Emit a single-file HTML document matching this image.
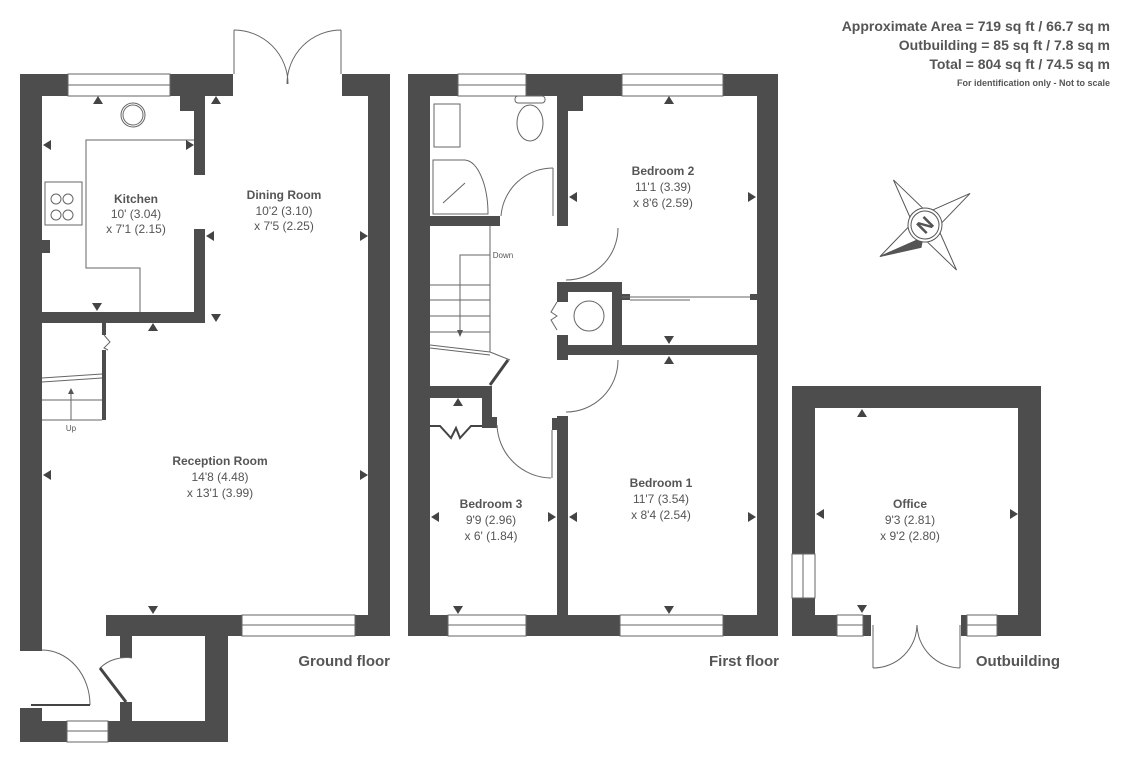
<!DOCTYPE html>
<html><head><meta charset="utf-8"><style>
html,body{margin:0;padding:0;background:#fff;}
svg{display:block;}
text{font-family:"Liberation Sans",sans-serif;fill:#555;}
.b{font-weight:bold;}
</style></head><body>
<svg width="1131" height="758" viewBox="0 0 1131 758" xmlns="http://www.w3.org/2000/svg">
<defs>
<g id="tu"><polygon points="-5,4 5,4 0,-4" fill="#444"/></g>
<g id="td"><polygon points="-5,-4 5,-4 0,4" fill="#444"/></g>
<g id="tl"><polygon points="4,-5 4,5 -4,0" fill="#444"/></g>
<g id="tr"><polygon points="-4,-5 -4,5 4,0" fill="#444"/></g>
</defs>
<!-- Header -->
<g text-anchor="end">
<text x="1110" y="31" font-size="14" class="b">Approximate Area = 719 sq ft / 66.7 sq m</text>
<text x="1110" y="50" font-size="14" class="b">Outbuilding = 85 sq ft / 7.8 sq m</text>
<text x="1110" y="69" font-size="14" class="b">Total = 804 sq ft / 74.5 sq m</text>
<text x="1110" y="86" font-size="9" class="b">For identification only - Not to scale</text>
</g>
<!-- Compass -->
<g transform="translate(925,225) rotate(-35)" stroke="#555" stroke-width="1" fill="#fff">
<polygon points="0,-55 9,-9 55,0 9,9 0,55 -9,9 -55,0 -9,-9"/>
<polygon points="-55,0 -9,9 -16,16" fill="#555"/>
<circle r="17"/><circle r="14"/>
<text x="0" y="7" font-size="20" text-anchor="middle" class="b" transform="rotate(-10)" style="fill:#555" stroke="none">N</text>
</g>
<g fill="#4d4d4d">
<!-- GROUND FLOOR -->
<rect x="20" y="74" width="48" height="22"/>
<rect x="170" y="74" width="63" height="22"/>
<rect x="180" y="96" width="25" height="15"/>
<rect x="342" y="74" width="48" height="22"/>
<rect x="20" y="74" width="22" height="577"/>
<rect x="368" y="74" width="22" height="562"/>
<rect x="194" y="96" width="11" height="79"/>
<rect x="194" y="229" width="11" height="94"/>
<rect x="42" y="312" width="163" height="11"/>
<rect x="42" y="240" width="8" height="13"/>
<rect x="102" y="323" width="4" height="12"/>
<rect x="102" y="350" width="4" height="70"/>
<rect x="106" y="615" width="136" height="21"/>
<rect x="355" y="615" width="35" height="21"/>
<rect x="120" y="636" width="12" height="22"/>
<rect x="120" y="702" width="12" height="19"/>
<rect x="205" y="636" width="23" height="106"/>
<rect x="108" y="721" width="120" height="21"/>
<rect x="20" y="708" width="22" height="34"/>
<rect x="20" y="721" width="47" height="21"/>
<!-- FIRST FLOOR -->
<rect x="408" y="74" width="50" height="22"/>
<rect x="526" y="74" width="96" height="22"/>
<rect x="723" y="74" width="55" height="22"/>
<rect x="408" y="74" width="22" height="562"/>
<rect x="757" y="74" width="21" height="562"/>
<rect x="408" y="615" width="40" height="21"/>
<rect x="526" y="615" width="94" height="21"/>
<rect x="723" y="615" width="55" height="21"/>
<rect x="557" y="96" width="11" height="130"/>
<rect x="568" y="96" width="15" height="15"/>
<rect x="430" y="216" width="70" height="10"/>
<rect x="557" y="282" width="65" height="10"/>
<rect x="557" y="282" width="11" height="20"/>
<rect x="557" y="335" width="11" height="25"/>
<rect x="612" y="282" width="10" height="73"/>
<rect x="557" y="345" width="200" height="10"/>
<rect x="622" y="294" width="8" height="6"/>
<rect x="750" y="294" width="7" height="6"/>
<rect x="430" y="386" width="62" height="12"/>
<rect x="482" y="386" width="10" height="42"/>
<rect x="482" y="417" width="15" height="11"/>
<rect x="557" y="416" width="11" height="199"/>
<rect x="552" y="418" width="6" height="12"/>
<!-- OUTBUILDING -->
<rect x="792" y="386" width="249" height="22"/>
<rect x="792" y="386" width="23" height="168"/>
<rect x="792" y="598" width="23" height="38"/>
<rect x="1018" y="386" width="23" height="250"/>
<rect x="792" y="615" width="45" height="21"/>
<rect x="863" y="615" width="8" height="21"/>
<rect x="961" y="615" width="6" height="21"/>
<rect x="997" y="615" width="21" height="21"/>
</g>
<g fill="none" stroke="#666" stroke-width="1">
<rect x="68" y="74" width="102" height="22"/><line x1="68" y1="85" x2="170" y2="85"/>
<rect x="242" y="615" width="113" height="21"/><line x1="242" y1="625" x2="355" y2="625"/>
<rect x="67" y="721" width="41" height="21"/><line x1="67" y1="731" x2="108" y2="731"/>
<rect x="458" y="74" width="68" height="22"/><line x1="458" y1="85" x2="526" y2="85"/>
<rect x="622" y="74" width="101" height="22"/><line x1="622" y1="85" x2="723" y2="85"/>
<rect x="448" y="615" width="78" height="21"/><line x1="448" y1="625" x2="526" y2="625"/>
<rect x="620" y="615" width="103" height="21"/><line x1="620" y1="625" x2="723" y2="625"/>
<rect x="792" y="554" width="23" height="44"/><line x1="803" y1="554" x2="803" y2="598"/>
<rect x="837" y="615" width="26" height="21"/><line x1="837" y1="625" x2="863" y2="625"/>
<rect x="967" y="615" width="30" height="21"/><line x1="967" y1="625" x2="997" y2="625"/>
<line x1="234" y1="30" x2="234" y2="74"/><line x1="341" y1="30" x2="341" y2="74"/>
<path d="M234,30 A54,54 0 0 1 288,84"/><path d="M341,30 A54,54 0 0 0 287,84"/>
<polyline points="194,140 86,140 86,268 140,268 140,312"/>
<circle cx="133" cy="115" r="12"/><circle cx="133" cy="115" r="10"/>
<rect x="45" y="182" width="37" height="43"/>
<circle cx="56" cy="199" r="5"/><circle cx="68" cy="199" r="5"/><circle cx="56" cy="215" r="5"/><circle cx="68" cy="215" r="5"/>
<line x1="42" y1="378" x2="102" y2="374"/><line x1="42" y1="382" x2="102" y2="378"/><line x1="42" y1="400" x2="102" y2="400"/><line x1="42" y1="420" x2="102" y2="420"/>
<line x1="71" y1="420" x2="71" y2="392"/>
<polyline points="104,335 110,342 104,348 108,350"/>
<path d="M42,650 A48,55 0 0 1 90,705"/><line x1="31" y1="705" x2="90" y2="705" stroke-width="2" stroke="#444"/>
<path d="M132,658 A38,38 0 0 0 100,668"/><line x1="100" y1="668" x2="126" y2="702" stroke-width="3" stroke="#444"/>
<rect x="434" y="104" width="26" height="43"/>
<path d="M433,160 L465,160 A24,54 0 0 1 488,214 L433,214 Z"/>
<line x1="443" y1="203" x2="465" y2="183"/>
<ellipse cx="530" cy="123" rx="13" ry="18"/><rect x="515" y="96" width="30" height="7" rx="3"/>
<path d="M501,216 A52,52 0 0 1 553,168"/><line x1="553" y1="168" x2="553" y2="216"/>
<path d="M618,228 A52,52 0 0 1 566,280"/>
<path d="M618,360 A52,52 0 0 1 566,412"/>
<path d="M497,425 A55,55 0 0 0 551,478"/><line x1="552" y1="478" x2="552" y2="430"/>
<line x1="622" y1="297" x2="750" y2="297"/><line x1="630" y1="300" x2="690" y2="300"/>
<circle cx="589" cy="316" r="15"/>
<polyline points="557,302 551,312 557,316 551,320 557,330"/>
<line x1="490" y1="226" x2="490" y2="352"/>
<line x1="430" y1="285" x2="490" y2="285"/><line x1="430" y1="300" x2="490" y2="300"/><line x1="430" y1="316" x2="490" y2="316"/><line x1="430" y1="332" x2="490" y2="332"/>
<line x1="430" y1="345" x2="490" y2="352"/><line x1="430" y1="348" x2="490" y2="355"/>
<polyline points="490,255 460,255 460,330"/>
<polyline points="490,352 510,360" />
<line x1="508" y1="360" x2="490" y2="385" stroke-width="3" stroke="#444"/>
<polyline points="430,426 440,426 451,438 456,428 460,438 471,426 482,426" stroke-width="2" stroke="#444"/>
<line x1="873" y1="625" x2="873" y2="668"/><line x1="960" y1="625" x2="960" y2="668"/>
<path d="M873,668 A44,44 0 0 0 917,625"/><path d="M960,668 A44,44 0 0 1 917,625"/>
</g>
<polygon points="457,330 463,330 460,337" fill="#555"/>
<polygon points="68,394 74,394 71,388" fill="#555"/>
<use href="#tu" x="98" y="100"/><use href="#tl" x="47" y="145"/><use href="#tr" x="190" y="145"/>
<use href="#td" x="97" y="307"/><use href="#tu" x="153" y="327"/><use href="#tu" x="216" y="100"/>
<use href="#tl" x="210" y="236"/><use href="#tr" x="364" y="236"/><use href="#td" x="216" y="318"/>
<use href="#tl" x="47" y="475"/><use href="#tr" x="364" y="475"/><use href="#td" x="153" y="610"/>
<use href="#tu" x="669" y="100"/><use href="#tl" x="573" y="197"/><use href="#tr" x="752" y="197"/>
<use href="#td" x="669" y="340"/><use href="#tu" x="669" y="360"/>
<use href="#tu" x="458" y="402"/><use href="#tl" x="435" y="517"/><use href="#tr" x="552" y="517"/>
<use href="#tl" x="573" y="517"/><use href="#tr" x="752" y="517"/><use href="#td" x="458" y="610"/><use href="#td" x="669" y="610"/>
<use href="#tu" x="862" y="413"/><use href="#tl" x="820" y="514"/><use href="#tr" x="1014" y="514"/><use href="#td" x="862" y="609"/>
<g text-anchor="middle" font-size="12">
<text x="136" y="203" class="b">Kitchen</text><text x="136" y="218">10' (3.04)</text><text x="136" y="233">x 7'1 (2.15)</text>
<text x="284" y="199" class="b">Dining Room</text><text x="284" y="215">10'2 (3.10)</text><text x="284" y="230">x 7'5 (2.25)</text>
<text x="220" y="465" class="b">Reception Room</text><text x="220" y="481">14'8 (4.48)</text><text x="220" y="497">x 13'1 (3.99)</text>
<text x="663" y="175" class="b">Bedroom 2</text><text x="663" y="191">11'1 (3.39)</text><text x="663" y="207">x 8'6 (2.59)</text>
<text x="661" y="487" class="b">Bedroom 1</text><text x="661" y="503">11'7 (3.54)</text><text x="661" y="519">x 8'4 (2.54)</text>
<text x="491" y="508" class="b">Bedroom 3</text><text x="491" y="524">9'9 (2.96)</text><text x="491" y="540">x 6' (1.84)</text>
<text x="910" y="508" class="b">Office</text><text x="910" y="524">9'3 (2.81)</text><text x="910" y="540">x 9'2 (2.80)</text>
<text x="71" y="431" font-size="8">Up</text>
<text x="503" y="258" font-size="8">Down</text>
</g>
<g font-size="15" class="b" text-anchor="end">
<text x="390" y="666" class="b">Ground floor</text>
<text x="779" y="666" class="b">First floor</text>
<text x="1060" y="666" class="b">Outbuilding</text>
</g>
</svg>
</body></html>
